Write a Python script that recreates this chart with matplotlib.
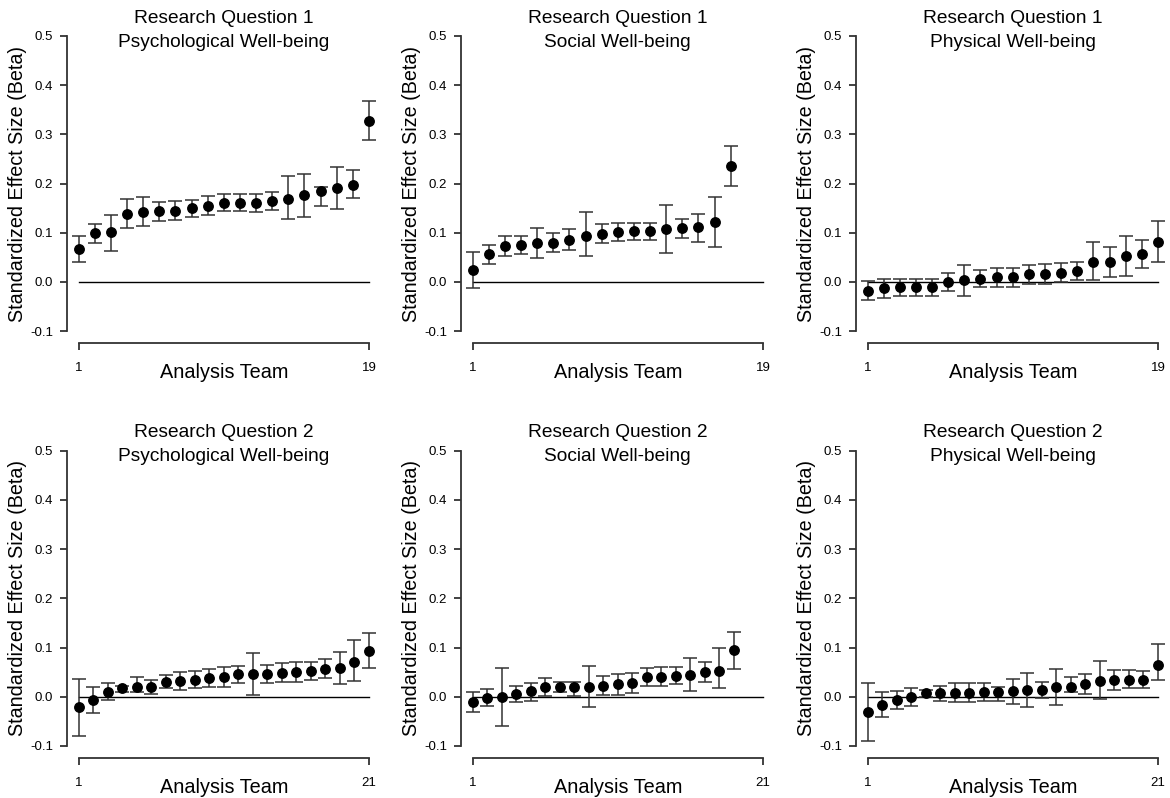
import matplotlib
matplotlib.use("Agg")
import matplotlib.pyplot as plt

plt.rcParams['font.family'] = ['Liberation Sans', 'DejaVu Sans']

# Estimates and interval bounds per panel, sorted by effect size
rq1_psych_est = [0.068, 0.099, 0.101, 0.139, 0.143, 0.144, 0.145, 0.150, 0.155, 0.161,
                 0.161, 0.161, 0.164, 0.169, 0.177, 0.184, 0.190, 0.198, 0.328]
rq1_psych_lo = [0.041, 0.080, 0.063, 0.110, 0.114, 0.124, 0.125, 0.133, 0.136, 0.144,
                0.144, 0.143, 0.146, 0.128, 0.132, 0.154, 0.148, 0.170, 0.288]
rq1_psych_hi = [0.094, 0.117, 0.137, 0.169, 0.173, 0.163, 0.164, 0.167, 0.175, 0.179,
                0.179, 0.178, 0.182, 0.216, 0.220, 0.194, 0.233, 0.227, 0.368]

rq1_social_est = [0.024, 0.056, 0.073, 0.076, 0.079, 0.080, 0.086, 0.093, 0.098, 0.102,
                  0.103, 0.103, 0.107, 0.110, 0.112, 0.122, 0.236]
rq1_social_lo = [-0.013, 0.037, 0.052, 0.057, 0.049, 0.060, 0.066, 0.053, 0.079, 0.084,
                 0.085, 0.085, 0.059, 0.089, 0.081, 0.071, 0.195]
rq1_social_hi = [0.061, 0.076, 0.094, 0.093, 0.109, 0.099, 0.107, 0.142, 0.118, 0.120,
                 0.120, 0.120, 0.156, 0.129, 0.139, 0.173, 0.277]

rq1_phys_est = [-0.018, -0.012, -0.011, -0.010, -0.010, 0.000, 0.003, 0.007, 0.010, 0.010,
                0.016, 0.017, 0.019, 0.023, 0.040, 0.041, 0.052, 0.057, 0.082]
rq1_phys_lo = [-0.036, -0.032, -0.029, -0.029, -0.029, -0.018, -0.029, -0.011, -0.011, -0.011,
               -0.005, -0.004, -0.001, 0.005, 0.004, 0.010, 0.012, 0.029, 0.040]
rq1_phys_hi = [0.002, 0.007, 0.007, 0.007, 0.007, 0.019, 0.035, 0.025, 0.029, 0.029,
               0.035, 0.037, 0.039, 0.041, 0.081, 0.072, 0.094, 0.086, 0.123]

rq2_psych_est = [-0.020, -0.006, 0.010, 0.017, 0.020, 0.020, 0.031, 0.032, 0.035, 0.038,
                 0.040, 0.046, 0.046, 0.047, 0.049, 0.050, 0.052, 0.057, 0.058, 0.070, 0.094]
rq2_psych_lo = [-0.079, -0.032, -0.007, 0.010, 0.010, 0.005, 0.017, 0.013, 0.017, 0.020,
                0.019, 0.029, 0.004, 0.029, 0.031, 0.031, 0.034, 0.039, 0.025, 0.033, 0.058]
rq2_psych_hi = [0.037, 0.020, 0.027, 0.022, 0.040, 0.034, 0.044, 0.051, 0.052, 0.056,
                0.061, 0.062, 0.089, 0.065, 0.068, 0.071, 0.070, 0.076, 0.090, 0.115, 0.130]

rq2_social_est = [-0.011, -0.003, 0.000, 0.005, 0.011, 0.020, 0.020, 0.020, 0.020, 0.022,
                  0.025, 0.027, 0.040, 0.041, 0.043, 0.045, 0.050, 0.052, 0.095]
rq2_social_lo = [-0.031, -0.019, -0.060, -0.010, -0.009, 0.001, 0.010, 0.001, -0.021, 0.004,
                 0.003, 0.007, 0.022, 0.021, 0.025, 0.012, 0.031, 0.018, 0.057]
rq2_social_hi = [0.010, 0.016, 0.059, 0.022, 0.029, 0.039, 0.031, 0.031, 0.063, 0.042,
                 0.046, 0.048, 0.058, 0.060, 0.061, 0.078, 0.071, 0.100, 0.132]

rq2_phys_est = [-0.030, -0.016, -0.007, 0.000, 0.007, 0.007, 0.008, 0.008, 0.009, 0.010,
                0.011, 0.014, 0.014, 0.019, 0.020, 0.026, 0.033, 0.035, 0.035, 0.035, 0.065]
rq2_phys_lo = [-0.090, -0.042, -0.025, -0.019, -0.001, -0.009, -0.011, -0.011, -0.008, -0.009,
               -0.014, -0.020, -0.002, -0.017, 0.009, 0.005, -0.005, 0.014, 0.017, 0.017, 0.035]
rq2_phys_hi = [0.029, 0.009, 0.012, 0.017, 0.014, 0.022, 0.027, 0.027, 0.027, 0.020,
               0.036, 0.048, 0.031, 0.056, 0.040, 0.046, 0.072, 0.055, 0.054, 0.053, 0.108]

question_titles = ["Research Question 1", "Research Question 2"]
outcome_titles = ["Psychological Well-being", "Social Well-being", "Physical Well-being"]
n_teams = [19, 21]
y_ticks = [-0.1, 0.0, 0.1, 0.2, 0.3, 0.4, 0.5]

panels = [
    [(rq1_psych_est, rq1_psych_lo, rq1_psych_hi),
     (rq1_social_est, rq1_social_lo, rq1_social_hi),
     (rq1_phys_est, rq1_phys_lo, rq1_phys_hi)],
    [(rq2_psych_est, rq2_psych_lo, rq2_psych_hi),
     (rq2_social_est, rq2_social_lo, rq2_social_hi),
     (rq2_phys_est, rq2_phys_lo, rq2_phys_hi)],
]

fig = plt.figure(figsize=(11.7, 7.98), dpi=100)

axis_col = '#333333'
lefts = [0.0573, 0.3940, 0.7316]
bottoms = [0.5702, 0.0504]
w, h = 0.268, 0.3995

for r in range(2):
    n = n_teams[r]
    pad = 0.04 * (n - 1)
    for c in range(3):
        est, lo, hi = panels[r][c]
        ax = fig.add_axes([lefts[c], bottoms[r], w, h])
        x = list(range(1, len(est) + 1))
        yerr = [[e - l for e, l in zip(est, lo)], [u - e for e, u in zip(est, hi)]]

        ax.plot([1, n], [0, 0], color='black', lw=1.0, zorder=1)
        ax.errorbar(x, est, yerr=yerr, fmt='o', color='black', ms=6.8,
                    ecolor=axis_col, elinewidth=1.1, capsize=5, capthick=1.1, zorder=3)

        ax.set_xlim(1 - pad, n + pad)
        ax.set_ylim(-0.1 - 0.024, 0.5 + 0.024)

        for s in ['top', 'right']:
            ax.spines[s].set_visible(False)
        ax.spines['left'].set_bounds(-0.1, 0.5)
        ax.spines['bottom'].set_bounds(1, n)
        for s in ['left', 'bottom']:
            ax.spines[s].set_color(axis_col)
            ax.spines[s].set_linewidth(1.3)

        ax.set_yticks(y_ticks)
        ax.set_yticklabels([f"{v:.1f}" for v in y_ticks])
        ax.set_xticks([1, n])
        ax.set_xticklabels(['1', str(n)])
        ax.tick_params(axis='y', direction='out', length=5, width=1.3, color=axis_col,
                       labelsize=9.5, pad=5)
        ax.tick_params(axis='x', direction='out', length=5, width=1.3, color=axis_col,
                       labelsize=9.5, pad=9)

        ax.text(0.5, -0.094, "Analysis Team", transform=ax.transAxes, ha='center',
                va='center', fontsize=14.3)
        ax.text(-0.157, 0.5, "Standardized Effect Size (Beta)", transform=ax.transAxes,
                ha='center', va='center', rotation=90, fontsize=14.2)
        ax.text(0.5, 1.019, question_titles[r], transform=ax.transAxes, ha='center',
                va='center', fontsize=13.8)
        ax.text(0.5, 0.944, outcome_titles[c], transform=ax.transAxes, ha='center',
                va='center', fontsize=13.8)

fig.savefig("out.png", dpi=100)
